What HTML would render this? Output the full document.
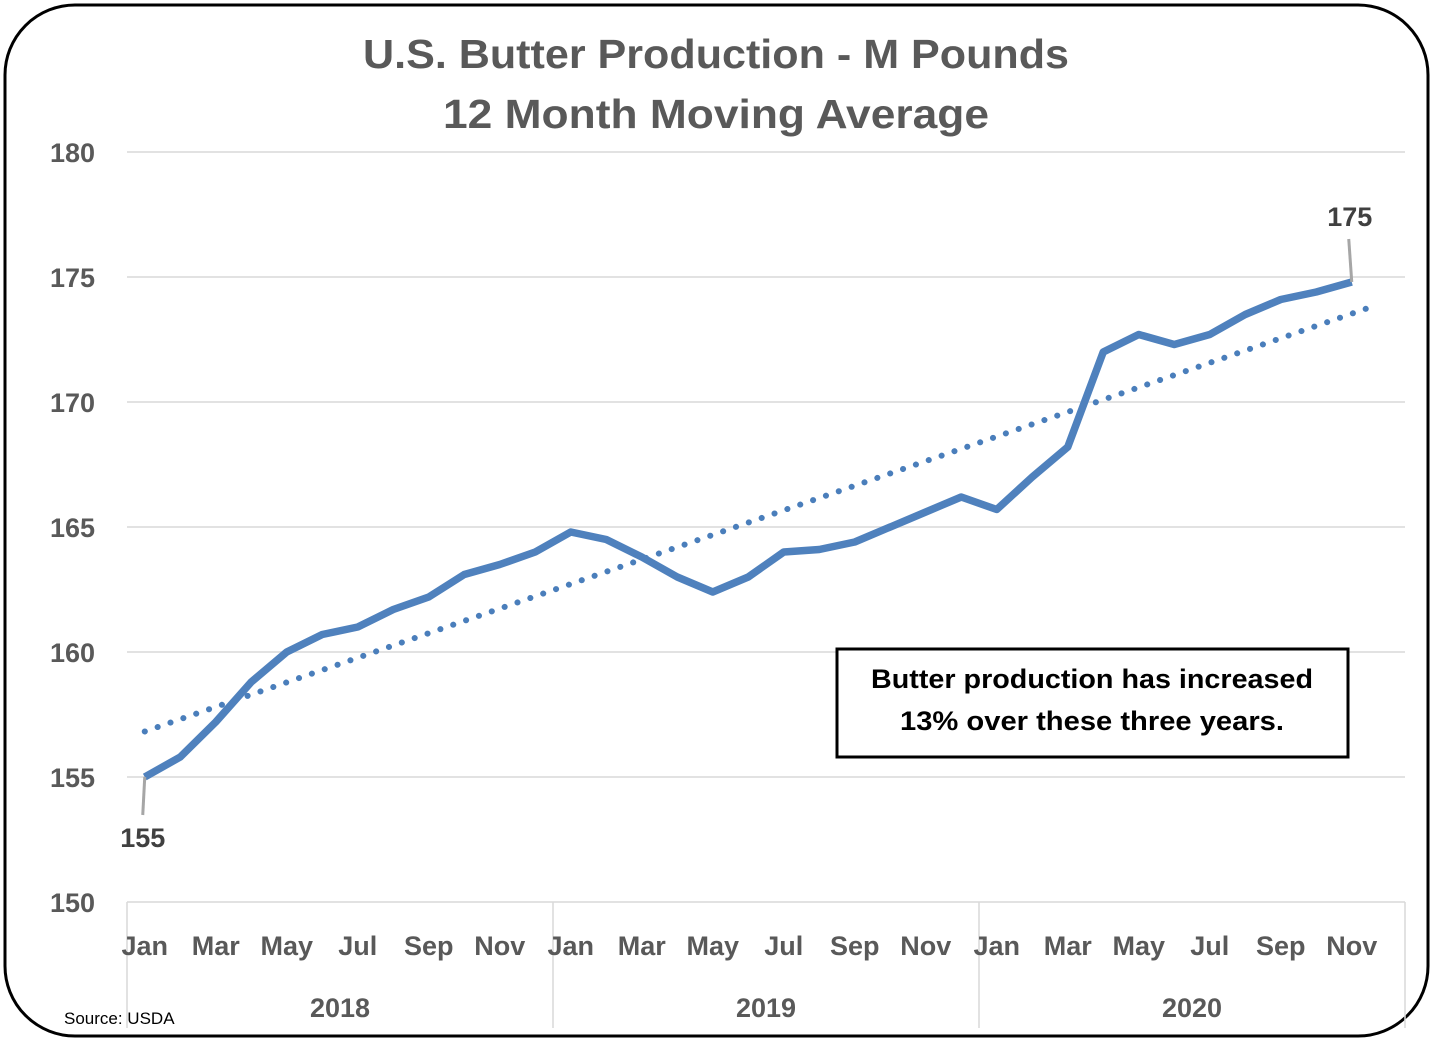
<!DOCTYPE html>
<html><head><meta charset="utf-8"><style>
body{margin:0;background:#fff;}
svg{display:block;font-family:"Liberation Sans",Arial,sans-serif;}
</style></head><body>
<svg id="chart" width="1433" height="1041" viewBox="0 0 1433 1041">
<rect x="5" y="5" width="1423" height="1031" rx="70" ry="70" fill="#fff" stroke="#000" stroke-width="3"/>
<text x="716" y="68" text-anchor="middle" font-size="41" font-weight="bold" fill="#595959" textLength="706" lengthAdjust="spacingAndGlyphs">U.S. Butter Production - M Pounds</text>
<text x="716" y="128" text-anchor="middle" font-size="41" font-weight="bold" fill="#595959" textLength="546" lengthAdjust="spacingAndGlyphs">12 Month Moving Average</text>
<g id="grid"></g><g id="axes"></g><g id="series"></g>
<rect x="837" y="649" width="511" height="108" fill="#fff" stroke="#000" stroke-width="3"/>
<text x="1092" y="688" text-anchor="middle" font-size="27" font-weight="bold" fill="#000" textLength="442" lengthAdjust="spacingAndGlyphs">Butter production has increased</text>
<text x="1092" y="730" text-anchor="middle" font-size="27" font-weight="bold" fill="#000" textLength="384" lengthAdjust="spacingAndGlyphs">13% over these three years.</text>
<text x="64" y="1024" font-size="17" fill="#000">Source: USDA</text>
</svg>
<script>
const months=["Jan","Feb","Mar","Apr","May","Jun","Jul","Aug","Sep","Oct","Nov","Dec"];
const years=["2018","2019","2020"];
const yTicks=[150,155,160,165,170,175,180];
const values=[155.0,155.8,157.2,158.8,160.0,160.7,161.0,161.7,162.2,163.1,163.5,164.0,164.8,164.5,163.8,163.0,162.4,163.0,164.0,164.1,164.4,165.0,165.6,166.2,165.7,167.0,168.2,172.0,172.7,172.3,172.7,173.5,174.1,174.4,174.8];
const NS="http://www.w3.org/2000/svg";
const X0=127,X1=1405,Y0=902,Y1=152,N=36,ymin=150,ymax=180;
const bw=(X1-X0)/N;
function xs(i){return X0+bw*(i+0.5);}
function ys(v){return Y0-(v-ymin)/(ymax-ymin)*(Y0-Y1);}
function mk(tag,attrs,parent){const e=document.createElementNS(NS,tag);for(const k in attrs)e.setAttribute(k,attrs[k]);document.getElementById(parent).appendChild(e);return e;}
yTicks.forEach(t=>{
 if(t>ymin){const l=mk('line',{x1:X0,x2:X1,y1:ys(t),y2:ys(t),stroke:'#d9d9d9','stroke-width':1.5},'grid');
 
 }
 const tx=mk('text',{x:95,y:ys(t)+10,'text-anchor':'end','font-size':27,'font-weight':'bold',fill:'#595959'},'axes');
 tx.textContent=t;
 
 
});
const ax=mk('line',{x1:X0,x2:X1,y1:Y0,y2:Y0,stroke:'#d9d9d9','stroke-width':1.5},'axes');


for(let y=0;y<=years.length;y++){
 const x=X0+bw*12*y;
 const l=mk('line',{x1:x,x2:x,y1:Y0,y2:1028,stroke:'#d9d9d9','stroke-width':1.5},'axes');
 
 
}
for(let i=0;i<N;i++){
 if(i%2)continue;
 const t=mk('text',{x:xs(i),y:955,'text-anchor':'middle','font-size':27,'font-weight':'bold',fill:'#595959'},'axes');
 t.textContent=months[i%12];
 
 
}
years.forEach((yr,k)=>{
 const t=mk('text',{x:X0+bw*(12*k+6),y:1017,'text-anchor':'middle','font-size':27,'font-weight':'bold',fill:'#595959'},'axes');
 t.textContent=yr;
 
 
});
const n=values.length;let sx=0,sy=0,sxy=0,sxx=0;
values.forEach((v,i)=>{sx+=i;sy+=v;sxy+=i*v;sxx+=i*i;});
const b=(n*sxy-sx*sy)/(n*sxx-sx*sx),a=(sy-b*sx)/n;
const tEnd=n-1+0.75;
const tr=mk('line',{x1:xs(0),y1:ys(a),x2:xs(tEnd),y2:ys(a+b*tEnd),stroke:'#4a7ebb','stroke-width':6,'stroke-dasharray':'0.1 13.5','stroke-linecap':'round'},'series');


const p=mk('polyline',{points:values.map((v,i)=>xs(i)+','+ys(v)).join(' '),fill:'none',stroke:'#4f81bd','stroke-width':7.5,'stroke-linejoin':'round'},'series');


const f=values[0],l=values[n-1];
const c1=mk('line',{x1:xs(0),y1:ys(f),x2:xs(0)-2,y2:ys(f)+38,stroke:'#a6a6a6','stroke-width':3},'series');


const t1=mk('text',{x:xs(0)-2,y:ys(f)+70,'text-anchor':'middle','font-size':27,'font-weight':'bold',fill:'#404040'},'series');
t1.textContent=Math.round(f);


const c2=mk('line',{x1:xs(n-1),y1:ys(l),x2:xs(n-1)-3,y2:ys(l)-43,stroke:'#a6a6a6','stroke-width':3},'series');


const t2=mk('text',{x:xs(n-1)-2,y:ys(l)-56,'text-anchor':'middle','font-size':27,'font-weight':'bold',fill:'#404040'},'series');
t2.textContent=Math.round(l);


</script>
</body></html>
